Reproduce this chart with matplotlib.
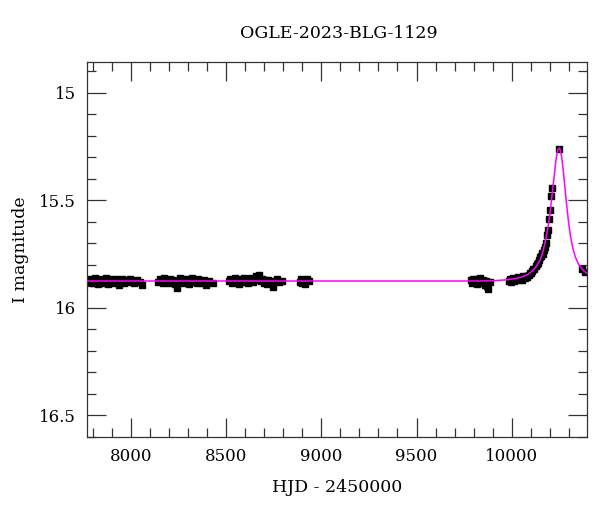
import numpy as np
import matplotlib.pyplot as plt

plt.rcParams['font.family'] = ['DejaVu Serif']

# OGLE photometry, HJD - 2450000 and I magnitude
t_s1 = [7775, 7783, 7790, 7798, 7805, 7812, 7820, 7828, 7835, 7843, 7850, 7858,
        7866, 7873, 7881, 7888, 7896, 7904, 7911, 7919, 7927, 7934, 7942, 7950,
        7957, 7965, 7973, 7980, 7988, 7996, 8005, 8015, 8030, 8045, 8058]
m_s1 = [15.872, 15.880, 15.868, 15.885, 15.876, 15.862, 15.879, 15.890, 15.871,
        15.866, 15.883, 15.875, 15.860, 15.878, 15.888, 15.869, 15.877, 15.884,
        15.873, 15.865, 15.881, 15.893, 15.874, 15.868, 15.879, 15.886, 15.870,
        15.876, 15.882, 15.867, 15.878, 15.885, 15.872, 15.880, 15.895]

t_s2 = [8142, 8150, 8158, 8166, 8174, 8182, 8190, 8198, 8206, 8214, 8222, 8230,
        8240, 8248, 8256, 8264, 8272, 8280, 8288, 8296, 8304, 8312, 8320, 8328,
        8336, 8344, 8352, 8360, 8370, 8382, 8395, 8410, 8428]
m_s2 = [15.880, 15.868, 15.874, 15.886, 15.863, 15.877, 15.871, 15.884, 15.866,
        15.879, 15.873, 15.889, 15.908, 15.875, 15.862, 15.881, 15.870, 15.885,
        15.867, 15.878, 15.892, 15.872, 15.864, 15.880, 15.875, 15.887, 15.869,
        15.878, 15.883, 15.870, 15.893, 15.876, 15.884]

t_s3 = [8512, 8520, 8528, 8536, 8544, 8552, 8560, 8568, 8576, 8584, 8592, 8600,
        8608, 8616, 8624, 8632, 8640, 8648, 8656, 8665, 8673, 8681, 8689, 8697,
        8705, 8713, 8721, 8729, 8738, 8747, 8756, 8766, 8778, 8792]
m_s3 = [15.878, 15.866, 15.884, 15.872, 15.861, 15.880, 15.874, 15.888, 15.868,
        15.877, 15.863, 15.882, 15.871, 15.886, 15.875, 15.860, 15.879, 15.868,
        15.855, 15.872, 15.848, 15.878, 15.866, 15.884, 15.873, 15.889, 15.870,
        15.877, 15.885, 15.905, 15.874, 15.866, 15.881, 15.877]

t_s4 = [8886, 8893, 8900, 8908, 8916, 8924, 8934]
m_s4 = [15.880, 15.868, 15.884, 15.872, 15.888, 15.866, 15.877]

t_s5 = [9786, 9792, 9798, 9804, 9810, 9816, 9822, 9828, 9834, 9840, 9846, 9852,
        9858, 9864, 9870, 9877, 9884]
m_s5 = [15.872, 15.884, 15.866, 15.880, 15.876, 15.890, 15.869, 15.882, 15.863,
        15.878, 15.887, 15.871, 15.893, 15.876, 15.898, 15.912, 15.880]

t_s6 = [9985, 9992, 9999, 10006, 10013, 10020, 10027, 10034, 10041, 10048, 10055,
        10062, 10069, 10076, 10083, 10090, 10096, 10102, 10108, 10114, 10120,
        10126, 10131, 10137, 10143, 10149, 10155, 10160, 10165, 10170, 10175,
        10179, 10184, 10189, 10198, 10201, 10207, 10214, 10250, 10368, 10386]
m_s6 = [15.874, 15.868, 15.880, 15.862, 15.876, 15.866, 15.872, 15.858, 15.869,
        15.861, 15.870, 15.855, 15.864, 15.852, 15.858, 15.846, 15.840, 15.838,
        15.830, 15.818, 15.820, 15.806, 15.795, 15.792, 15.778, 15.765, 15.760,
        15.748, 15.750, 15.730, 15.720, 15.700, 15.660, 15.640, 15.587, 15.546,
        15.483, 15.442, 15.263, 15.818, 15.833]

# point-lens model
t_model = [7768, 9800, 9900, 9980, 10030, 10060, 10090, 10112, 10130, 10149,
           10163, 10175, 10186, 10196, 10205, 10213, 10219, 10226, 10232, 10238,
           10244, 10250, 10256, 10263, 10271, 10280, 10290, 10300, 10310, 10322,
           10335, 10350, 10365, 10380, 10395]
m_model = [15.876, 15.876, 15.875, 15.870, 15.863, 15.856, 15.843, 15.826,
           15.808, 15.780, 15.745, 15.700, 15.650, 15.597, 15.535, 15.470,
           15.425, 15.370, 15.320, 15.285, 15.265, 15.257, 15.268, 15.300,
           15.360, 15.440, 15.530, 15.610, 15.670, 15.725, 15.765, 15.795,
           15.815, 15.830, 15.840]

t_obs = t_s1 + t_s2 + t_s3 + t_s4 + t_s5 + t_s6
m_obs = m_s1 + m_s2 + m_s3 + m_s4 + m_s5 + m_s6
err = np.full(len(t_obs), 0.013)

fig = plt.figure(figsize=(6, 5.12), dpi=100)
ax = fig.add_axes([0.145, 0.147, 0.833, 0.731])

ax.errorbar(t_obs, m_obs, yerr=err, fmt='s', color='black', ms=4.3,
            elinewidth=1.6, capsize=0, zorder=2)
ax.plot(t_model, m_model, color='magenta', lw=1.1, zorder=3)

ax.set_xlim(7768, 10395)
ax.set_ylim(16.57, 14.86)
ax.set_xticks([8000, 8500, 9000, 9500, 10000])
ax.set_xticks(np.arange(7800, 10400, 100), minor=True)
ax.set_yticks([15, 15.5, 16, 16.5])
ax.set_yticklabels(['15', '15.5', '16', '16.5'])
ax.set_yticks(np.arange(14.9, 16.6, 0.1), minor=True)
ax.tick_params(which='both', direction='in', top=True, right=True,
               labelsize=12, color='#333333')
ax.tick_params(which='major', length=13.5, width=0.9, pad=8)
ax.tick_params(which='minor', length=6.5, width=0.9)
for s in ax.spines.values():
    s.set_linewidth(0.9)
    s.set_color('#333333')

ax.set_xlabel('HJD - 2450000', fontsize=12.5, labelpad=10)
ax.set_ylabel('I magnitude', fontsize=12.5, labelpad=7)
fig.text(0.565, 0.935, 'OGLE-2023-BLG-1129', ha='center', va='center',
         fontsize=12.5)

fig.savefig('out.png', dpi=100)
